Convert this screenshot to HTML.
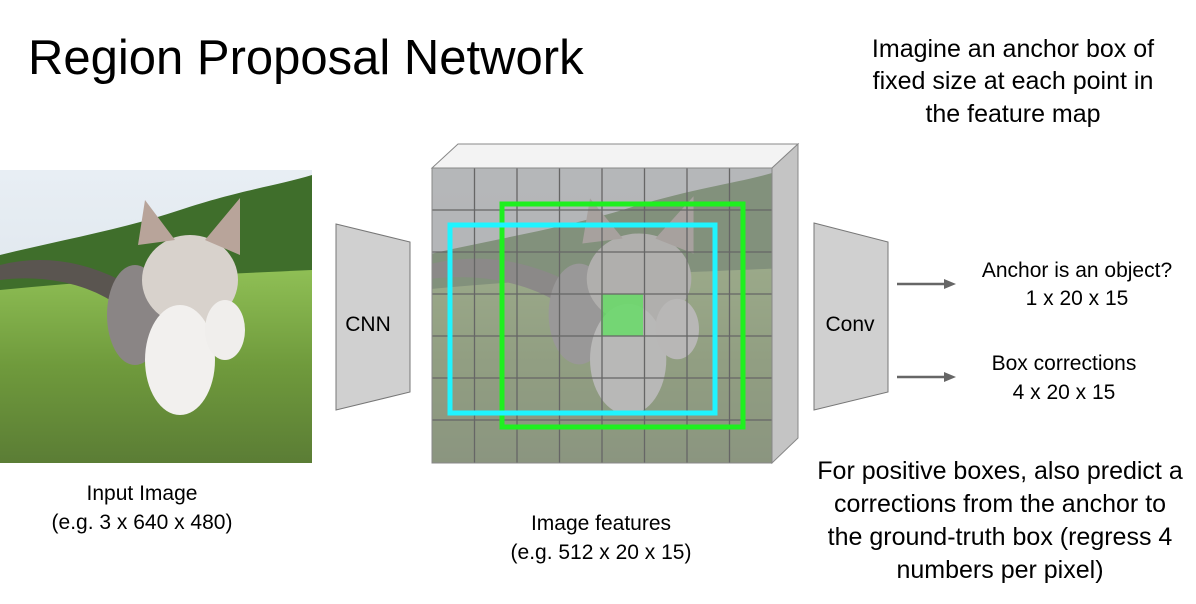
<!DOCTYPE html>
<html><head><meta charset="utf-8"><style>
body{margin:0;background:#fff;width:1196px;height:599px;overflow:hidden}
svg text{font-family:"Liberation Sans",sans-serif;fill:#000}
</style></head><body>
<svg width="1196" height="599" viewBox="0 0 1196 599" xmlns="http://www.w3.org/2000/svg">
<defs>
<linearGradient id="sky" x1="0" y1="0" x2="0" y2="1">
<stop offset="0" stop-color="#e8eef4"/><stop offset="1" stop-color="#d4dfe6"/></linearGradient>
<linearGradient id="grass" x1="0" y1="0" x2="0" y2="1">
<stop offset="0" stop-color="#8fbf55"/><stop offset="0.5" stop-color="#6f9a3c"/><stop offset="1" stop-color="#5b7d35"/></linearGradient>
<g id="photo">
<rect x="0" y="0" width="312" height="293" fill="url(#sky)"/>
<path d="M0 85 C60 70 120 60 180 40 C240 20 280 15 312 5 L312 115 L0 135 Z" fill="#3f6e2b"/>
<path d="M0 120 C100 110 200 105 312 100 L312 293 L0 293 Z" fill="url(#grass)"/>
<path d="M0 95 C40 85 80 90 120 110 L110 130 C80 112 40 105 0 110 Z" fill="#5a5550"/>
<ellipse cx="135" cy="145" rx="28" ry="50" fill="#8a8585"/>
<ellipse cx="190" cy="110" rx="48" ry="45" fill="#d8d2cc"/>
<path d="M138 75 L145 30 L175 70 Z M205 70 L240 28 L240 85 Z" fill="#b8a49a"/>
<ellipse cx="180" cy="190" rx="35" ry="55" fill="#f2f0ee"/>
<ellipse cx="225" cy="160" rx="20" ry="30" fill="#f0eeec"/>
</g>
</defs>
<text x="28" y="74" font-size="49">Region Proposal Network</text>
<text x="1013" y="57" font-size="25" text-anchor="middle">Imagine an anchor box of</text>
<text x="1013" y="89" font-size="25" text-anchor="middle">fixed size at each point in</text>
<text x="1013" y="122" font-size="25" text-anchor="middle">the feature map</text>

<use href="#photo" x="0" y="170"/>
<text x="142" y="500" font-size="21" text-anchor="middle">Input Image</text>
<text x="142" y="529" font-size="21" text-anchor="middle">(e.g. 3 x 640 x 480)</text>

<polygon points="336,224 410,242 410,392 336,410" fill="#d0d0d0" stroke="#777" stroke-width="1"/>
<text x="368" y="331" font-size="21" text-anchor="middle">CNN</text>

<polygon points="432,168 458,144 798,144 772,168" fill="#f3f3f3" stroke="#888" stroke-width="1"/>
<polygon points="772,168 798,144 798,438 772,463" fill="#c4c4c4" stroke="#888" stroke-width="1"/>
<svg x="432" y="168" width="340" height="295" viewBox="0 0 312 293" preserveAspectRatio="none"><use href="#photo"/></svg>
<rect x="432" y="168" width="340" height="295" fill="#a0a0a0" fill-opacity="0.7"/>
<rect x="601" y="294" width="42" height="42" fill="#5ee05e" fill-opacity="0.75"/>
<g stroke="#666" stroke-width="1.3">
<line x1="474.5" y1="168" x2="474.5" y2="463"/><line x1="517" y1="168" x2="517" y2="463"/>
<line x1="559.5" y1="168" x2="559.5" y2="463"/><line x1="602" y1="168" x2="602" y2="463"/>
<line x1="644.5" y1="168" x2="644.5" y2="463"/><line x1="687" y1="168" x2="687" y2="463"/>
<line x1="729.5" y1="168" x2="729.5" y2="463"/>
<line x1="432" y1="210" x2="772" y2="210"/><line x1="432" y1="252" x2="772" y2="252"/>
<line x1="432" y1="294" x2="772" y2="294"/><line x1="432" y1="336" x2="772" y2="336"/>
<line x1="432" y1="378" x2="772" y2="378"/><line x1="432" y1="420" x2="772" y2="420"/>
</g>
<rect x="432" y="168" width="340" height="295" fill="none" stroke="#888" stroke-width="1"/>
<rect x="502" y="204" width="241" height="223" fill="none" stroke="#1ff01f" stroke-width="5"/>
<rect x="450" y="225" width="265" height="188" fill="none" stroke="#1ff4ff" stroke-width="5"/>
<text x="601" y="530" font-size="21" text-anchor="middle">Image features</text>
<text x="601" y="559" font-size="21" text-anchor="middle">(e.g. 512 x 20 x 15)</text>

<polygon points="814,223 888,242 888,392 814,410" fill="#d0d0d0" stroke="#777" stroke-width="1"/>
<text x="850" y="331" font-size="21" text-anchor="middle">Conv</text>

<g stroke="#666" stroke-width="2.5" fill="#666">
<line x1="897" y1="284" x2="945" y2="284"/><polygon points="944,279 956,284 944,289" stroke="none"/>
<line x1="897" y1="377" x2="945" y2="377"/><polygon points="944,372 956,377 944,382" stroke="none"/>
</g>
<text x="1077" y="277" font-size="21" text-anchor="middle">Anchor is an object?</text>
<text x="1077" y="305" font-size="21" text-anchor="middle">1 x 20 x 15</text>
<text x="1064" y="370" font-size="21" text-anchor="middle">Box corrections</text>
<text x="1064" y="399" font-size="21" text-anchor="middle">4 x 20 x 15</text>

<text x="1000" y="479" font-size="25" text-anchor="middle">For positive boxes, also predict a</text>
<text x="1000" y="512" font-size="25" text-anchor="middle">corrections from the anchor to</text>
<text x="1000" y="545" font-size="25" text-anchor="middle">the ground-truth box (regress 4</text>
<text x="1000" y="578" font-size="25" text-anchor="middle">numbers per pixel)</text>
</svg>
</body></html>
